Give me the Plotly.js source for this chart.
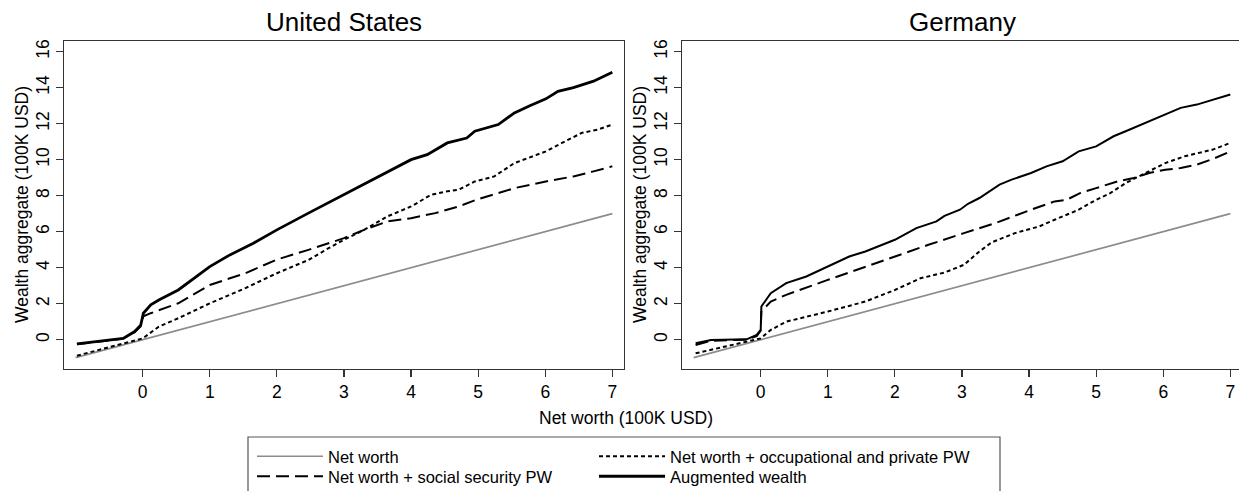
<!DOCTYPE html>
<html><head><meta charset="utf-8">
<script src="https://cdn.plot.ly/plotly-3.0.1.min.js"></script>
<style>html,body{margin:0;padding:0;overflow:hidden;background:#fff}#chart{width:1244px;height:500px}</style>
</head><body><div id="chart"></div>
<script>
// ---- Data (100K USD) ----
var panelTitles = ["United States", "Germany"];
var seriesNames = ["Net worth", "Net worth + social security PW", "Net worth + occupational and private PW", "Augmented wealth"];
var xTickVals = [0, 1, 2, 3, 4, 5, 6, 7];
var yTickVals = [0, 2, 4, 6, 8, 10, 12, 14, 16];

var netWorthX = [-1, 7];
var netWorthY = [-1, 7];

// United States
var usSSX = [-0.98, -0.59, -0.29, -0.12, -0.03, 0.01, 0.12, 0.53, 1.0, 1.53, 2.0, 2.47, 2.77, 3.0, 3.3, 3.65, 4.0, 4.36, 4.71, 5.0, 5.3, 5.54, 6.01, 6.42, 6.72, 7.0];
var usSSY = [-0.26, -0.07, 0.06, 0.42, 0.75, 1.3, 1.47, 2.02, 3.04, 3.69, 4.45, 4.99, 5.36, 5.64, 6.1, 6.57, 6.75, 7.03, 7.4, 7.81, 8.14, 8.42, 8.79, 9.07, 9.35, 9.63];
var usOccX = [-0.98, -0.5, 0, 0.24, 0.53, 1.0, 1.53, 2.0, 2.47, 2.77, 3.0, 3.3, 3.65, 4.0, 4.3, 4.54, 4.71, 4.95, 5.24, 5.54, 6.01, 6.25, 6.54, 6.78, 7.0];
var usOccY = [-0.89, -0.42, 0.07, 0.72, 1.19, 2.02, 2.86, 3.69, 4.43, 5.08, 5.55, 6.1, 6.85, 7.4, 8.05, 8.24, 8.33, 8.79, 9.07, 9.81, 10.46, 10.93, 11.48, 11.67, 11.95];
var usAugX = [-0.98, -0.59, -0.29, -0.12, -0.03, 0.01, 0.12, 0.24, 0.53, 1.0, 1.3, 1.65, 2.0, 2.47, 2.95, 3.42, 4.0, 4.24, 4.54, 4.83, 4.95, 5.3, 5.54, 5.77, 6.01, 6.19, 6.42, 6.72, 7.0];
var usAugY = [-0.24, -0.06, 0.07, 0.45, 0.8, 1.47, 1.93, 2.2, 2.76, 4.06, 4.71, 5.36, 6.1, 7.03, 7.96, 8.89, 10.0, 10.28, 10.93, 11.2, 11.58, 11.95, 12.6, 13.0, 13.38, 13.8, 14.0, 14.36, 14.86];

// Germany
var deSSX = [-0.97, -0.74, -0.21, -0.06, 0, 0.01, 0.15, 0.38, 1.0, 1.56, 2.0, 2.5, 3.03, 3.5, 4.03, 4.38, 4.56, 4.76, 5.0, 5.32, 5.56, 5.79, 6.03, 6.26, 6.5, 6.74, 7.0];
var deSSY = [-0.3, -0.06, 0.0, 0.2, 0.5, 1.56, 2.12, 2.49, 3.32, 4.06, 4.62, 5.27, 5.92, 6.48, 7.22, 7.68, 7.77, 8.14, 8.42, 8.79, 8.98, 9.26, 9.44, 9.54, 9.72, 10.04, 10.46];
var deOccX = [-0.97, -0.5, 0, 0.15, 0.38, 1.0, 1.56, 2.0, 2.38, 2.74, 3.03, 3.26, 3.44, 3.79, 4.15, 4.38, 4.74, 5.0, 5.21, 5.44, 5.74, 6.03, 6.32, 6.74, 7.0];
var deOccY = [-0.76, -0.36, 0.07, 0.54, 1.0, 1.56, 2.12, 2.76, 3.41, 3.73, 4.16, 4.9, 5.4, 5.92, 6.29, 6.66, 7.22, 7.77, 8.14, 8.7, 9.26, 9.81, 10.19, 10.56, 10.93];
var deAugX = [-0.97, -0.74, -0.21, -0.06, 0, 0.01, 0.15, 0.38, 0.68, 1.0, 1.32, 1.56, 2.0, 2.32, 2.62, 2.74, 2.97, 3.09, 3.26, 3.56, 3.74, 4.03, 4.26, 4.5, 4.74, 5.0, 5.26, 5.44, 5.74, 6.03, 6.26, 6.5, 6.74, 7.0];
var deAugY = [-0.2, -0.02, 0.02, 0.26, 0.54, 1.84, 2.58, 3.14, 3.51, 4.06, 4.62, 4.9, 5.55, 6.2, 6.57, 6.88, 7.22, 7.55, 7.87, 8.61, 8.89, 9.26, 9.63, 9.91, 10.46, 10.74, 11.3, 11.58, 12.04, 12.5, 12.88, 13.06, 13.34, 13.62];

// ---- Styles ----
var W = 1244, H = 500;
var FONT = "Liberation Sans, Arial, Helvetica, sans-serif";
var gray = "#8c8c8c", black = "#000000";
function px(x){ return x / W; }
function py(y){ return 1 - y / H; }

function tr(x, y, name, axis, color, width, dash, legend, show){
  return {x: x, y: y, name: name, type: "scatter", mode: "lines",
    xaxis: axis[0], yaxis: axis[1], legend: legend, showlegend: show,
    line: {color: color, width: width, dash: dash}, hoverinfo: "skip"};
}
var us = ["x", "y"], de = ["x2", "y2"];
var data = [
  tr(netWorthX, netWorthY, seriesNames[0], us, gray, 1.7, "solid", "legend", true),
  tr(usOccX, usOccY, seriesNames[2], us, black, 2, "4px,3px", "legend3", true),
  tr(usSSX, usSSY, seriesNames[1], us, black, 2, "13px,6px", "legend2", true),
  tr(usAugX, usAugY, seriesNames[3], us, black, 2.8, "solid", "legend4", true),
  tr(netWorthX, netWorthY, seriesNames[0], de, gray, 1.7, "solid", "legend", false),
  tr(deOccX, deOccY, seriesNames[2], de, black, 2, "4px,3px", "legend3", false),
  tr(deSSX, deSSY, seriesNames[1], de, black, 2, "13px,6px", "legend2", false),
  tr(deAugX, deAugY, seriesNames[3], de, black, 2, "solid", "legend4", false)
];

function xa(d0, d1, anchor){
  return {domain: [px(d0), px(d1)], anchor: anchor, range: [-1.173, 7.174], automargin: false,
    tickvals: xTickVals, ticktext: xTickVals.map(String), ticks: "outside", ticklen: 7, tickwidth: 1.2, tickcolor: "#333",
    showline: true, mirror: true, linecolor: "#333", linewidth: 1.2, showgrid: false, zeroline: false,
    tickfont: {family: FONT, size: 17.5, color: "#000"}, fixedrange: true};
}
function ya(anchor){
  return {domain: [py(369), py(40.7)], anchor: anchor, range: [-1.63, 16.61], automargin: false,
    tickvals: yTickVals, ticktext: yTickVals.map(String), tickangle: -90, ticks: "outside", ticklen: 7, tickwidth: 1.2, tickcolor: "#333",
    showline: true, mirror: true, linecolor: "#333", linewidth: 1.2, showgrid: false, zeroline: false,
    tickfont: {family: FONT, size: 17.5, color: "#000"}, fixedrange: true};
}

var legendCommon = {xref: "paper", yref: "paper", xanchor: "left", yanchor: "top", orientation: "v",
  bgcolor: "rgba(0,0,0,0)", borderwidth: 0, itemwidth: 66, tracegroupgap: 0,
  font: {family: FONT, size: 16.5, color: "#000"}};
function leg(x, top){ return Object.assign({}, legendCommon, {x: x / W, y: py(top)}); }

var layout = {
  width: W, height: H, margin: {l: 0, r: 0, t: 0, b: 0, autoexpand: false},
  paper_bgcolor: "#fff", plot_bgcolor: "#fff",
  font: {family: FONT, color: "#000"},
  xaxis: xa(64, 624, "y"), yaxis: ya("x"),
  xaxis2: xa(682, 1242, "y2"), yaxis2: ya("x2"),
  legend: leg(252, 439),
  legend2: leg(252, 459),
  legend3: leg(594, 439),
  legend4: leg(594, 459),
  shapes: [{type: "rect", xref: "paper", yref: "paper", x0: px(248), x1: px(1000), y0: py(520), y1: py(437),
    line: {color: "#555", width: 1.2}, fillcolor: "rgba(0,0,0,0)", layer: "below"}],
  annotations: [
    {text: panelTitles[0], x: px(344), y: py(22), xref: "paper", yref: "paper", showarrow: false, xanchor: "center", yanchor: "middle", font: {family: FONT, size: 26, color: "#000"}},
    {text: panelTitles[1], x: px(962), y: py(22), xref: "paper", yref: "paper", showarrow: false, xanchor: "center", yanchor: "middle", font: {family: FONT, size: 26, color: "#000"}},
    {text: "Wealth aggregate (100K USD)", x: px(22), y: py(205), xref: "paper", yref: "paper", showarrow: false, textangle: -90, xanchor: "center", yanchor: "middle", font: {family: FONT, size: 17.5, color: "#000"}},
    {text: "Wealth aggregate (100K USD)", x: px(640), y: py(205), xref: "paper", yref: "paper", showarrow: false, textangle: -90, xanchor: "center", yanchor: "middle", font: {family: FONT, size: 17.5, color: "#000"}},
    {text: "Net worth (100K USD)", x: px(626), y: py(418), xref: "paper", yref: "paper", showarrow: false, xanchor: "center", yanchor: "middle", font: {family: FONT, size: 17.5, color: "#000"}}
  ]
};

Plotly.newPlot("chart", data, layout, {displayModeBar: false, staticPlot: true});
</script></body></html>
